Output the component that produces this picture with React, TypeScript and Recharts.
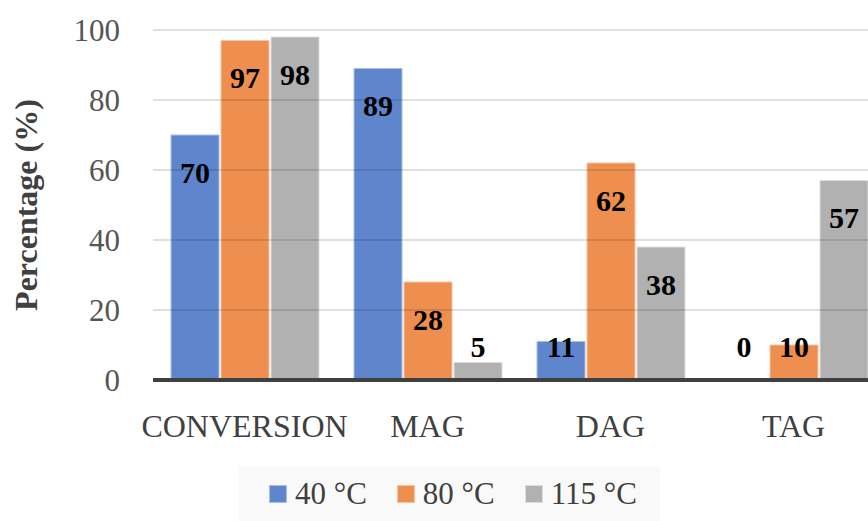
import { BarChart, Bar, XAxis, YAxis, ReferenceLine } from "recharts";

const categories = ["CONVERSION", "MAG", "DAG", "TAG"];
const temp40 = [70, 89, 11, 0];
const temp80 = [97, 28, 62, 10];
const temp115 = [98, 5, 38, 57];
const yTicks = [0, 20, 40, 60, 80, 100];
const gridValues = [20, 40, 60, 80, 100];

const series = [
  { key: "t40", name: "40 °C", fill: "#5f86cd", stroke: "#a8bfe8" },
  { key: "t80", name: "80 °C", fill: "#ef8f4f", stroke: "#f7c3a0" },
  { key: "t115", name: "115 °C", fill: "#b1b1b1", stroke: "#dedede" },
];

const data = categories.map((name, i) => ({
  name,
  t40: temp40[i],
  t80: temp80[i],
  t115: temp115[i],
}));

const FONT = "'Liberation Serif', 'Times New Roman', serif";
const AXIS_Y0 = 380;
const LABEL_FLOOR = AXIS_Y0 - 34;

// value sits inside the top of the bar; short bars push it up to a floor line
function ValueLabel(props: any) {
  const { x, y, width, value } = props;
  if (x == null || y == null) return null;
  const cy = Math.min(Number(y) + 37, LABEL_FLOOR);
  return (
    <text
      x={Number(x) + Number(width) / 2}
      y={cy}
      textAnchor="middle"
      dominantBaseline="central"
      fontFamily={FONT}
      fontWeight="bold"
      fontSize={30}
      fill="#000"
    >
      {String(value)}
    </text>
  );
}

function AxisTitle() {
  return (
    <text
      x={37}
      y={205}
      transform="rotate(-90, 37, 205)"
      textAnchor="middle"
      fontFamily={FONT}
      fontWeight="bold"
      fontSize={32}
      fill="#404040"
    >
      Percentage (%)
    </text>
  );
}

// keep a hairline rect for zero values so their label still gets a slot
const keepZero = (v: any) => (Number(v) === 0 ? 0.01 : 0);

export default function App() {
  return (
    <div
      style={{
        position: "fixed",
        left: 0,
        top: 0,
        width: 868,
        height: 521,
        overflow: "hidden",
        background: "#fff",
      }}
    >
      <BarChart
        width={905}
        height={521}
        data={data}
        margin={{ top: 30, right: 20, left: 0, bottom: 81 }}
        barSize={48}
        barGap={2}
      >
        <XAxis
          dataKey="name"
          tickLine={false}
          axisLine={{ stroke: "#404040", strokeWidth: 4 }}
          tickSize={0}
          tickMargin={34}
          height={60}
          tick={{ fill: "#404040", fontSize: 32, fontFamily: FONT }}
          interval={0}
        />
        <YAxis
          width={153}
          domain={[0, 100]}
          ticks={yTicks}
          axisLine={false}
          tickLine={false}
          tickSize={0}
          tickMargin={33}
          tick={{ fill: "#555", fontSize: 31, fontFamily: FONT }}
          label={{ content: () => <AxisTitle /> }}
        />
        {series.map((s) => (
          <Bar
            key={s.key}
            dataKey={s.key}
            name={s.name}
            fill={s.fill}
            stroke={s.stroke}
            strokeWidth={1}
            minPointSize={keepZero}
            isAnimationActive={false}
            label={(p: any) => <ValueLabel {...p} />}
          />
        ))}
        {gridValues.map((v) => (
          <ReferenceLine key={v} y={v} stroke="rgba(0,0,0,0.16)" strokeWidth={1.5} />
        ))}
      </BarChart>
      <div
        style={{
          position: "absolute",
          left: 239,
          top: 467,
          width: 421,
          height: 54,
          background: "#f9f9f9",
          display: "flex",
          alignItems: "center",
          paddingLeft: 30,
          boxSizing: "border-box",
          gap: 30,
          fontFamily: FONT,
          fontSize: 31,
          color: "#404040",
        }}
      >
        {series.map((s) => (
          <div key={s.key} style={{ display: "flex", alignItems: "center" }}>
            <span
              style={{
                width: 16,
                height: 16,
                background: s.fill,
                border: `1px solid ${s.stroke}`,
                marginRight: 8,
                display: "inline-block",
              }}
            />
            <span>{s.name}</span>
          </div>
        ))}
      </div>
    </div>
  );
}
